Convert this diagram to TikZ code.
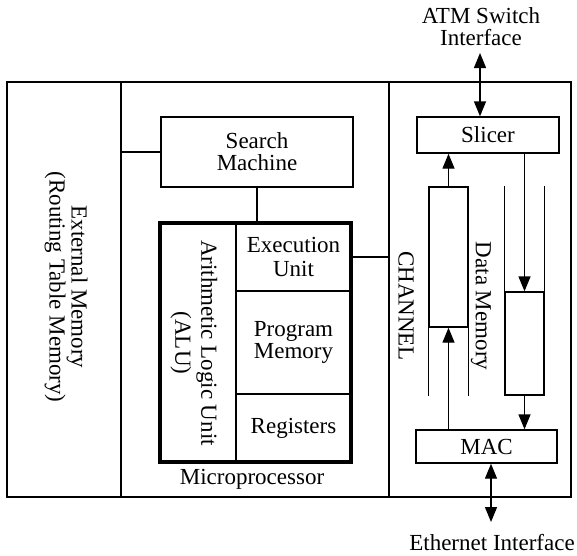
\documentclass[tikz,border=0pt]{standalone}
\usepackage{fontspec}
\setmainfont{Liberation Serif}
\usetikzlibrary{arrows.meta}

\begin{document}
\begin{tikzpicture}[x=1pt,y=-1pt,line width=1.4pt,
    every node/.style={font=\fontsize{23}{22}\selectfont,align=center},
    tip/.style={-{Triangle[length=15pt,width=12pt]}},
    both/.style={{Triangle[length=15pt,width=12pt]}-{Triangle[length=15pt,width=12pt]}}]

      \useasboundingbox (0,0) rectangle (577,555);

      % the three large blocks
      \begin{scope}[every node/.append style={draw,rectangle,inner sep=0pt}]
        \node[minimum width=114pt,minimum height=415pt] (ext)  at (64,289.5)  {};
        \node[minimum width=268pt,minimum height=415pt] (mp)   at (255,289.5) {};
        \node[minimum width=182pt,minimum height=415pt] (chan) at (480,289.5) {};
      \end{scope}

      \begin{scope}[every node/.append style={draw,rectangle,inner sep=0pt}]
        \node[minimum width=192pt,minimum height=70pt]  (search) at (257,152)   {Search\\Machine};
        \node[minimum width=115pt,minimum height=68pt]  (exec)   at (293.5,257) {Execution\\[2pt]Unit};
        \node[minimum width=115pt,minimum height=103pt] (prog)   at (293.5,342.5) {Program\\Memory};
        \node[minimum width=115pt,minimum height=68pt]  (reg)    at (293.5,428) {Registers};
        \node[minimum width=191pt,minimum height=239pt,line width=3.4pt] (alu) at (255.5,342.5) {};
        \node[minimum width=142pt,minimum height=36pt]  (slicer) at (488,135)   {Slicer};
        \node[minimum width=141pt,minimum height=33pt]  (mac)    at (486.5,446.5) {MAC};
        \node[minimum width=39pt,minimum height=140pt]  (inq)    at (448.5,257) {};
        \node[minimum width=39pt,minimum height=103pt]  (outq)   at (524.5,343.5) {};
      \end{scope}

      % labels
      \node[rotate=-90] (extlabel)  at (66,287)  {External Memory\\(Routing Table Memory)};
      \node[rotate=-90] (alulabel)  at (194,343) {Arithmetic Logic Unit\\[4pt](ALU)};
      \node             (mplabel)   at (252,479) {Microprocessor};
      \node[rotate=-90] (chanlabel) at (406,306) {CHANNEL};
      \node[rotate=-90] (dmlabel)   at (481,306) {Data Memory};
      \node             (atm)       at (481,27)  {ATM Switch\\Interface};
      \node[inner sep=0pt] (eth)    at (492,543) {Ethernet Interface};
      \coordinate (atmtip) at (480,53);
      \coordinate (ethtip) at (491,522);

      % open ends of the queues
      \draw (inq.south west) -- ++(0,68);
      \draw (inq.south east) -- ++(0,68);
      \draw (outq.north west) -- ++(0,-105);
      \draw (outq.north east) -- ++(0,-105);

      \path (search.west)  edge (search.west -| ext.east);
      \path (search.south) edge (search.south |- alu.north);
      \path (exec.east)    edge (exec.east -| chan.west);
      \path (atmtip)       edge[both] (atmtip |- slicer.north);
      \path (inq.north)    edge[tip]  (inq.north |- slicer.south);
      \path (outq.north |- slicer.south) edge[tip] (outq.north);
      \path (outq.south)   edge[tip]  (outq.south |- mac.north);
      \path (inq.south |- mac.north) edge[tip] (inq.south);
      \path (ethtip |- mac.south) edge[both] (ethtip);

    \end{tikzpicture}
\end{document}
